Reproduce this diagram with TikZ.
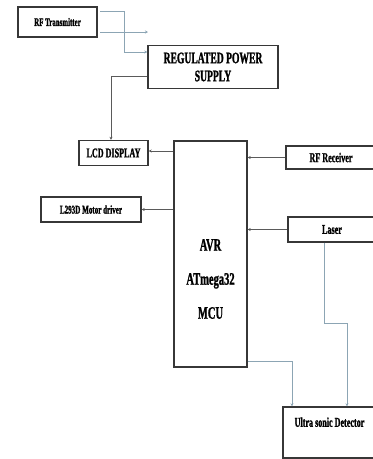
\documentclass[tikz,border=0pt]{standalone}
\usepackage{fontspec}
\setmainfont{Liberation Serif}
\newfontfamily\cond[FakeStretch=0.6, BoldFeatures={FakeBold=1.2}]{Liberation Serif}
\usetikzlibrary{arrows.meta,calc}
\definecolor{boxline}{RGB}{55,55,55}
\definecolor{darkcon}{RGB}{90,90,90}
\definecolor{lightcon}{RGB}{140,165,180}
\tikzset{
  blk/.style={draw=boxline, line width=1.4pt, fill=white, inner sep=0pt},
  dcon/.style={draw=darkcon, line width=0.8pt, -{Stealth[length=3pt,width=3pt]}},
  lcon/.style={draw=lightcon, line width=0.8pt, -{Stealth[length=3pt,width=3pt]}},
  fs/.style={font=\cond\bfseries\fontsize{#1}{#1}\selectfont},
}
\begin{document}
\begin{tikzpicture}[x=1pt,y=-1pt]
\useasboundingbox (0,0) rectangle (373,459);
\node[blk, minimum width=79pt, minimum height=30pt, fs=11.5] (tx) at (57.5,22) {RF Transmitter};
\node[blk, minimum width=130pt, minimum height=43pt, align=center, font=\cond\bfseries\fontsize{16}{18}\selectfont] (ps) at (213,67) {REGULATED POWER\\SUPPLY};
\node[blk, minimum width=69pt, minimum height=25pt, fs=13.5] (lcd) at (113.5,153) {LCD DISPLAY};
\node[blk, minimum width=73pt, minimum height=226pt] (mcu) at (210.5,254) {};
\node[font=\cond\bfseries\fontsize{17.5}{34}\selectfont, align=center] (mcutxt) at (210.5,279) {AVR\\ATmega32\\MCU};
\node[blk, minimum width=90pt, minimum height=23pt, fs=13.5] (rx) at (331,157.5) {RF Receiver};
\node[blk, minimum width=100pt, minimum height=25pt, fs=11.8] (l293) at (91,209.5) {L293D Motor driver};
\node[blk, minimum width=88pt, minimum height=25pt, fs=13.5] (laser) at (332,229.5) {Laser};
\node[blk, minimum width=93pt, minimum height=51pt, align=center, font=\cond\bfseries\fontsize{13.5}{16}\selectfont] (us) at (329.5,432.5) {Ultra sonic Detector\\ \strut};
% RF transmitter lines
\coordinate (txa) at (100,11);
\coordinate (txb) at (100,32);
\coordinate (txend) at (148,32);
\draw[lcon] (txa) -- (124,11) -- (124,52) -- (ps.west |- 0,52);
\draw[lcon] (txb) -- (txend);
% supply to LCD
\draw[dcon] (ps.west |- 0,76) -- (111,76) -- (lcd.north -| 111,0);
% MCU connections
\draw[dcon] (mcu.west |- 0,151) -- (lcd.east |- 0,151);
\draw[dcon] (rx.west) -- (rx.west -| mcu.east);
\draw[dcon] (mcu.west |- l293.east) -- (l293.east);
\draw[dcon] (laser.west) -- (laser.west -| mcu.east);
% to ultrasonic
\draw[lcon] (laser.south -| 324,0) -- (324,323) -- (347,323) -- (us.north -| 347,0);
\draw[lcon] (mcu.east |- 0,361) -- (292,361) -- (us.north -| 292,0);
\end{tikzpicture}
\end{document}
